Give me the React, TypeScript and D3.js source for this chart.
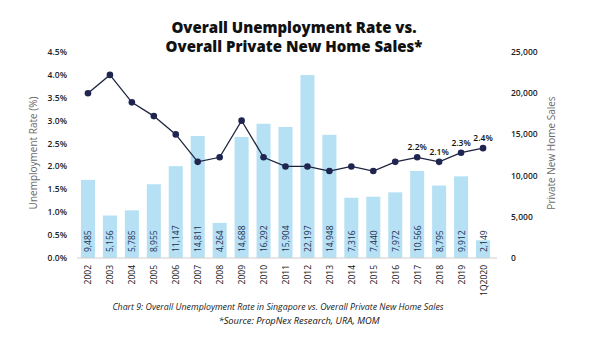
import * as d3 from 'd3'

const years = ['2002', '2003', '2004', '2005', '2006', '2007', '2008', '2009', '2010', '2011', '2012', '2013', '2014', '2015', '2016', '2017', '2018', '2019', '1Q2020']
const homeSales = [9485, 5156, 5785, 8955, 11147, 14811, 4264, 14688, 16292, 15904, 22197, 14948, 7316, 7440, 7972, 10566, 8795, 9912, 2149]
const unemployment = [3.6, 4.0, 3.4, 3.1, 2.7, 2.1, 2.2, 3.0, 2.2, 2.0, 2.0, 1.9, 2.0, 1.9, 2.1, 2.2, 2.1, 2.3, 2.4]
const labelledYears = ['2017', '2018', '2019', '1Q2020']
const rateTicks = [0, 0.5, 1, 1.5, 2, 2.5, 3, 3.5, 4, 4.5]
const salesTicks = [0, 5000, 10000, 15000, 20000, 25000]

const W = 600
const H = 361
const FONT = '"Open Sans", "DejaVu Sans", sans-serif'

export default function App() {
  const margin = { left: 77, right: 106, top: 52, bottom: 103 }
  const x = d3.scaleBand<string>().domain(years).range([margin.left, W - margin.right]).paddingInner(0.36).paddingOuter(0.18)
  const yRate = d3.scaleLinear().domain([0, 4.5]).range([H - margin.bottom, margin.top])
  const ySales = d3.scaleLinear().domain([0, 25000]).range([H - margin.bottom, margin.top])
  const cx = (y: string) => (x(y) ?? 0) + x.bandwidth() / 2
  const base = yRate(0)

  const pts = years.map((y, i) => ({ year: y, rate: unemployment[i] }))
  const line = d3.line<{ year: string; rate: number }>().x((d) => cx(d.year)).y((d) => yRate(d.rate))
  const pct = d3.format('.1f')
  const comma = d3.format(',')

  return (
    <svg width={W} height={H} style={{ position: 'absolute', left: 0, top: 0, background: '#fff' }} fontFamily={FONT}>
      <rect width={W} height={H} fill="#fff" />
      <text x={294} y={33} textAnchor="middle" fontSize={15} fontWeight={800} fill="#111">Overall Unemployment Rate vs.</text>
      <text x={294} y={51.5} textAnchor="middle" fontSize={15} fontWeight={800} fill="#111">Overall Private New Home Sales*</text>

      {homeSales.map((v, i) => (
        <rect key={years[i]} x={x(years[i])} y={ySales(v)} width={x.bandwidth()} height={base - ySales(v)} fill="#b6e1f4" />
      ))}
      <line x1={margin.left} x2={W - margin.right + 3} y1={base} y2={base} stroke="#cfcfcf" strokeWidth={1} />

      {homeSales.map((v, i) => (
        <text key={'v' + years[i]} transform={`translate(${cx(years[i]) + 3.5},${base - 6}) rotate(-90)`} fontSize={8.5} fill="#1c2a4a">{comma(v)}</text>
      ))}

      <path d={line(pts) ?? ''} fill="none" stroke="#1c2340" strokeWidth={1.3} />
      {pts.map((d) => (
        <circle key={'c' + d.year} cx={cx(d.year)} cy={yRate(d.rate)} r={3.3} fill="#1f2550" />
      ))}
      {pts.filter((d) => labelledYears.includes(d.year)).map((d) => (
        <text key={'l' + d.year} x={cx(d.year)} y={yRate(d.rate) - 7} textAnchor="middle" fontSize={8.5} fontWeight={600} fill="#111">{pct(d.rate)}%</text>
      ))}

      {rateTicks.map((t) => (
        <text key={'r' + t} x={67} y={yRate(t) + 3} textAnchor="end" fontSize={8.5} fontWeight={600} fill="#222">{pct(t)}%</text>
      ))}
      {salesTicks.map((t) => (
        <text key={'s' + t} x={511} y={ySales(t) + 3} fontSize={8.5} fontWeight={600} fill="#222">{comma(t)}</text>
      ))}

      {years.map((y) => (
        <text key={'x' + y} transform={`translate(${cx(y) + 3.5},265) rotate(-90)`} textAnchor="end" fontSize={8.5} fill="#111">{y}</text>
      ))}

      <text transform={`translate(37,153) rotate(-90)`} textAnchor="middle" fontSize={10} fill="#6a6a6a">Unemployment Rate (%)</text>
      <text transform={`translate(555,153) rotate(-90)`} textAnchor="middle" fontSize={10} fill="#6a6a6a">Private New Home Sales</text>

      <text x={278} y={309.5} textAnchor="middle" fontSize={8.8} fontStyle="italic" fill="#222">Chart 9: Overall Unemployment Rate in Singapore vs. Overall Private New Home Sales</text>
      <text x={299} y={323.5} textAnchor="middle" fontSize={9.3} fontStyle="italic" fill="#111">*Source: PropNex Research, URA, MOM</text>
    </svg>
  )
}
